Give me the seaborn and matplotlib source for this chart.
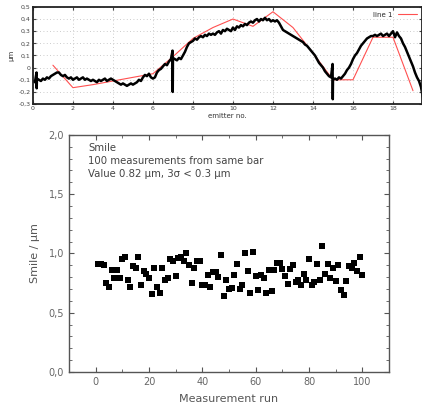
import numpy as np
import pandas as pd
import matplotlib
matplotlib.use("Agg")
import matplotlib.pyplot as plt
from matplotlib.ticker import FuncFormatter, MultipleLocator, AutoMinorLocator
import seaborn as sns

# top panel: measured smile along the bar (black) and fitted "line 1" (red)
emitter_x = list(np.round(np.arange(0, 19.55, 0.1), 1))
smile_trace = [
    -0.11, -0.12, -0.09, -0.10, -0.11, -0.09, -0.10, -0.08, -0.09, -0.07,
    -0.06, -0.05, -0.04, -0.04, -0.06, -0.07, -0.06, -0.08, -0.09, -0.08,
    -0.10, -0.09, -0.08, -0.10, -0.09, -0.08, -0.10, -0.09, -0.10, -0.11,
    -0.10, -0.11, -0.12, -0.10, -0.11, -0.10, -0.09, -0.11, -0.10, -0.09,
    -0.10, -0.11, -0.12, -0.13, -0.14, -0.13, -0.14, -0.15, -0.14, -0.13,
    -0.14, -0.13, -0.12, -0.10, -0.11, -0.08, -0.06, -0.07, -0.05, -0.08,
    -0.09, -0.08, -0.04, -0.02, -0.01, 0.01, 0.03, 0.02, 0.05, 0.07,
    0.08, 0.07, 0.06, 0.08, 0.07, 0.10, 0.13, 0.17, 0.20, 0.21,
    0.22, 0.24, 0.23, 0.25, 0.26, 0.25, 0.27, 0.26, 0.28, 0.27,
    0.28, 0.27, 0.29, 0.30, 0.28, 0.31, 0.30, 0.32, 0.31, 0.30,
    0.33, 0.31, 0.34, 0.33, 0.35, 0.34, 0.36, 0.35, 0.37, 0.38,
    0.37, 0.39, 0.40, 0.38, 0.40, 0.39, 0.41, 0.39, 0.40, 0.38,
    0.39, 0.38, 0.39, 0.37, 0.34, 0.31, 0.30, 0.29, 0.28, 0.27,
    0.26, 0.25, 0.24, 0.23, 0.22, 0.21, 0.19, 0.18, 0.16, 0.14,
    0.12, 0.10, 0.07, 0.04, 0.02, 0.00, -0.03, -0.05, -0.07, -0.08,
    -0.10, -0.09, -0.10, -0.08, -0.09, -0.07, -0.05, -0.02, 0.00, 0.03,
    0.07, 0.10, 0.12, 0.15, 0.18, 0.20, 0.22, 0.24, 0.25, 0.26,
    0.26, 0.27, 0.26, 0.27, 0.28, 0.26, 0.27, 0.28, 0.26, 0.28,
    0.30, 0.25, 0.29, 0.26, 0.24, 0.20, 0.17, 0.13, 0.09, 0.05,
    0.01, -0.04, -0.08, -0.11, -0.16, -0.25,
]
spike_x = [0.18, 0.19, 6.98, 6.99, 14.98, 14.99]
spike_y = [-0.04, -0.17, 0.14, -0.20, 0.03, -0.26]

line1_x = [1, 2, 3, 4, 5, 6, 7, 8, 9, 10, 11, 12, 13, 14, 15, 16, 17, 18, 19]
line1_y = [0.02, -0.165, -0.14, -0.11, -0.08, -0.05, 0.09, 0.24, 0.33, 0.40,
           0.34, 0.46, 0.33, 0.12, -0.10, -0.10, 0.25, 0.25, -0.19]

# bottom panel: 100 repeated measurements
run = list(range(1, 101))
smile = [
    0.91, 0.91, 0.90, 0.75, 0.72, 0.86, 0.79, 0.86, 0.79, 0.95,
    0.97, 0.78, 0.72, 0.89, 0.88, 0.97, 0.73, 0.85, 0.83, 0.79,
    0.66, 0.88, 0.72, 0.67, 0.88, 0.78, 0.79, 0.95, 0.94, 0.81,
    0.96, 0.97, 0.94, 1.00, 0.90, 0.75, 0.88, 0.94, 0.94, 0.73,
    0.73, 0.82, 0.72, 0.84, 0.84, 0.80, 0.99, 0.64, 0.78, 0.70,
    0.71, 0.82, 0.91, 0.70, 0.73, 1.00, 0.85, 0.67, 1.01, 0.81,
    0.69, 0.82, 0.79, 0.67, 0.86, 0.68, 0.86, 0.92, 0.92, 0.87,
    0.81, 0.74, 0.87, 0.90, 0.76, 0.78, 0.73, 0.83, 0.78, 0.95,
    0.73, 0.76, 0.91, 0.78, 1.06, 0.83, 0.91, 0.79, 0.88, 0.77,
    0.90, 0.69, 0.65, 0.77, 0.89, 0.88, 0.92, 0.85, 0.97, 0.82,
]

sns.set_style("ticks")
plt.rcParams['font.family'] = ['DejaVu Sans']

trace = pd.DataFrame({"x": emitter_x + spike_x, "y": smile_trace + spike_y})
trace = trace.sort_values("x", kind="stable")
df_line1 = pd.DataFrame({"x": line1_x, "y": line1_y})
df_runs = pd.DataFrame({"run": run, "smile": smile})

fig = plt.figure(figsize=(4.22, 4.05), dpi=100)
ax1 = fig.add_axes([0.078, 0.743, 0.922, 0.240])
ax2 = fig.add_axes([0.1635, 0.0815, 0.7585, 0.5855])


def comma(v, pos):
    s = f"{v:.1f}".replace(".", ",")
    return "0" if s in ("0,0", "-0,0") else s


# ---- top panel
sns.lineplot(data=df_line1, x="x", y="y", ax=ax1, color="#ff5050",
             linewidth=0.8, sort=False, estimator=None, label="line 1")
sns.lineplot(data=trace, x="x", y="y", ax=ax1, color="black",
             linewidth=1.8, sort=False, estimator=None)
ax1.set_xlim(0, 19.45)
ax1.set_ylim(-0.3, 0.5)
ax1.xaxis.set_major_locator(MultipleLocator(2))
ax1.yaxis.set_major_locator(MultipleLocator(0.1))
ax1.yaxis.set_major_formatter(FuncFormatter(comma))
ax1.grid(True, color="#bbbbbb", linestyle=(0, (1, 3)), linewidth=0.6)
ax1.tick_params(direction="in", length=2, labelsize=4.5, pad=1.5,
                colors="#444444", top=True, right=True)
for sp in ax1.spines.values():
    sp.set_linewidth(1.3)
    sp.set_color("#222222")
ax1.set_xlabel("emitter no.", fontsize=5, labelpad=1, color="#333333")
ax1.set_ylabel("µm", fontsize=5, labelpad=3, color="#333333")
ax1.legend(loc="upper right", bbox_to_anchor=(1.0, 1.0), frameon=False,
           fontsize=5, handlelength=2.8, markerfirst=False,
           borderaxespad=0.3)

# ---- bottom panel
sns.scatterplot(data=df_runs, x="run", y="smile", ax=ax2, color="black",
                marker="s", s=20, linewidth=0)
ax2.set_xlim(-10, 110)
ax2.set_ylim(0, 2.0)
ax2.xaxis.set_major_locator(MultipleLocator(20))
ax2.xaxis.set_minor_locator(AutoMinorLocator(2))
ax2.yaxis.set_major_locator(MultipleLocator(0.5))
ax2.yaxis.set_minor_locator(AutoMinorLocator(5))
ax2.yaxis.set_major_formatter(FuncFormatter(lambda v, p: f"{v:.1f}".replace(".", ",")))
ax2.tick_params(which="both", direction="in", top=True, right=True,
                colors="#555555", labelsize=7, labelcolor="#666666")
ax2.tick_params(which="major", length=3.5)
ax2.tick_params(which="minor", length=2)
for sp in ax2.spines.values():
    sp.set_linewidth(1.0)
    sp.set_color("#555555")
ax2.set_xlabel("Measurement run", fontsize=8, color="#555555", labelpad=5)
ax2.set_ylabel("Smile / µm", fontsize=8, color="#555555", labelpad=6)
ax2.text(0.06, 0.965,
         "Smile\n100 measurements from same bar\nValue 0.82 µm, 3σ < 0.3 µm",
         transform=ax2.transAxes, ha="left", va="top", fontsize=7.3,
         color="#444444", linespacing=1.35)

fig.savefig("out.png", dpi=100)
